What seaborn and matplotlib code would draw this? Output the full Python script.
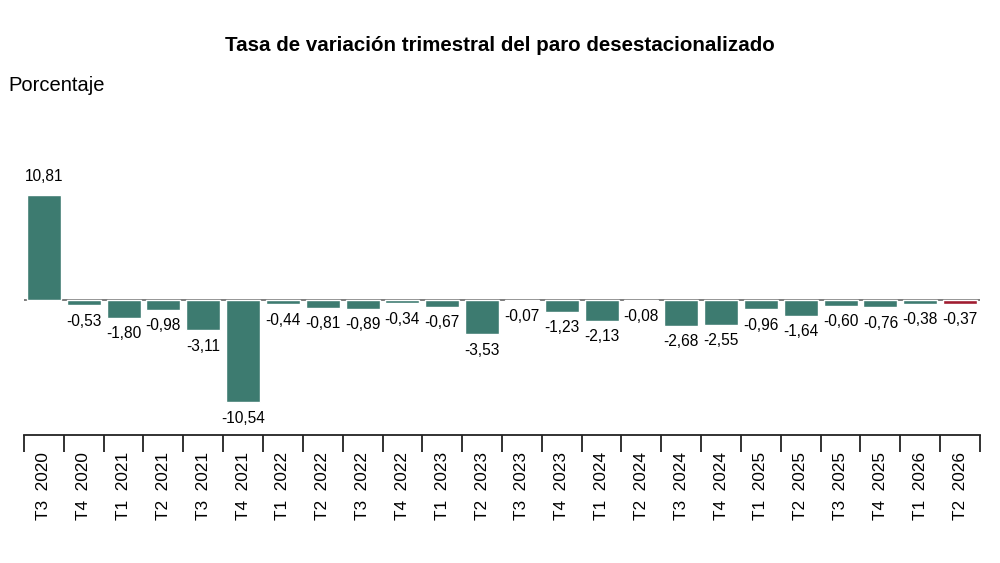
import matplotlib
matplotlib.use("Agg")
import matplotlib.pyplot as plt
import seaborn as sb
import numpy as np

# Datos: tasa de variacion trimestral del paro desestacionalizado
periodos = ["T3  2020", "T4  2020", "T1  2021", "T2  2021", "T3  2021", "T4  2021",
            "T1  2022", "T2  2022", "T3  2022", "T4  2022", "T1  2023", "T2  2023",
            "T3  2023", "T4  2023", "T1  2024", "T2  2024", "T3  2024", "T4  2024",
            "T1  2025", "T2  2025", "T3  2025", "T4  2025", "T1  2026", "T2  2026"]
valores = [10.81, -0.53, -1.80, -0.98, -3.11, -10.54,
           -0.44, -0.81, -0.89, -0.34, -0.67, -3.53,
           -0.07, -1.23, -2.13, -0.08, -2.68, -2.55,
           -0.96, -1.64, -0.60, -0.76, -0.38, -0.37]

verde = "#3d7b70"
rojo = "#a01c30"
colores = [verde] * (len(valores) - 1) + [rojo]

sb.set_style("white")
plt.rcParams['font.family'] = ['Liberation Sans', 'DejaVu Sans']
plt.rcParams['text.color'] = "black"
plt.rcParams['xtick.color'] = "black"

fig = plt.figure(figsize=(10, 5.63), dpi=100)
ax = fig.add_axes([0.024, 0.2274, 0.956, 0.455])

sb.barplot(x=periodos, y=valores, hue=periodos, palette=colores, legend=False,
           width=0.85, saturation=1, ax=ax)

# linea del cero
ax.axhline(0, color="#666666", linewidth=1.2, zorder=0)

# etiquetas de valor
for p, v in zip(ax.patches, valores):
    xc = p.get_x() + p.get_width() / 2
    txt = f"{v:.2f}".replace(".", ",")
    if v >= 0:
        ax.annotate(txt, (xc, v), xytext=(0, 8), textcoords="offset points",
                    ha="center", va="bottom", fontsize=11.2, color="black")
    else:
        ax.annotate(txt, (xc, v), xytext=(0, -6), textcoords="offset points",
                    ha="center", va="top", fontsize=11.2, color="black")

ax.set_xlim(-0.5, len(valores) - 0.5)
ax.set_ylim(-13.9, 12.5)

for s in ["top", "right", "left"]:
    ax.spines[s].set_visible(False)
ax.spines["bottom"].set_color("#222222")
ax.spines["bottom"].set_linewidth(1.3)
ax.set_yticks([])

# ticks en los limites de cada categoria, etiquetas centradas
ax.set_xticks(np.arange(len(valores)))
ax.set_xticklabels(periodos, rotation=90, fontsize=12.4)
ax.set_xticks(np.arange(len(valores) + 1) - 0.5, minor=True)
ax.tick_params(axis="x", which="major", length=0, pad=12)
ax.tick_params(axis="x", which="minor", length=12, width=1.3, color="#222222",
               direction="out", bottom=True)

fig.text(0.5, 0.92, "Tasa de variación trimestral del paro desestacionalizado",
         ha="center", va="center", fontsize=14.8, fontweight="bold")
fig.text(0.008, 0.849, "Porcentaje", ha="left", va="center", fontsize=14.5)

fig.savefig("out.png", dpi=100)
